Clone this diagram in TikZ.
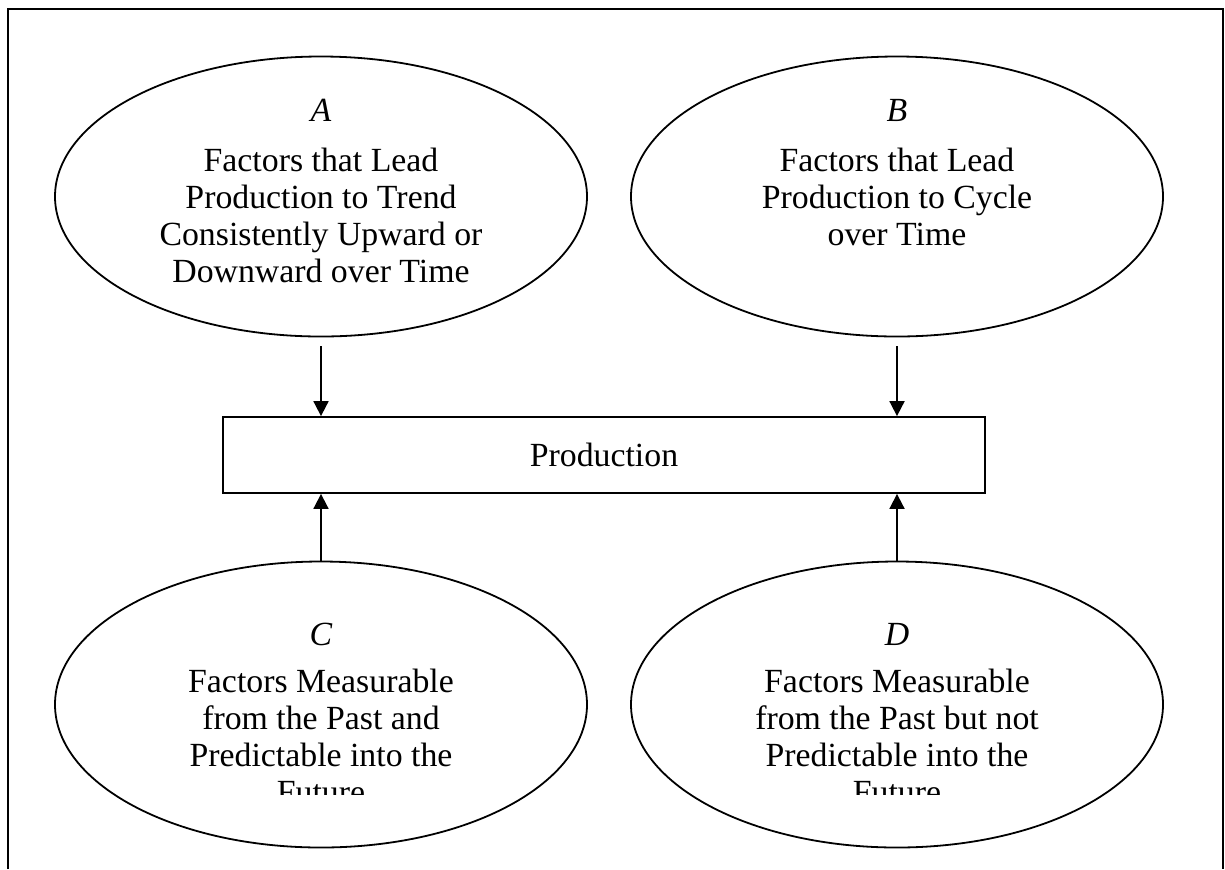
\documentclass[tikz,border=0pt]{standalone}
\usepackage{fontspec}
\setmainfont{Liberation Serif}
\usetikzlibrary{shapes.geometric,arrows.meta,positioning}

\begin{document}
\begin{tikzpicture}[x=0.5pt,y=-0.5pt,line width=0.9pt,
    >={Triangle[width=7.5pt,length=7.5pt]},
    factor/.style={draw,ellipse,inner sep=0pt,minimum width=266pt,minimum height=140pt},
    factortext/.style={anchor=north,align=center,inner sep=0pt,font=\fontsize{16.9}{18.5}\selectfont},
    prodbox/.style={draw,rectangle,inner sep=0pt,minimum width=381pt,minimum height=38pt,font=\fontsize{16.9}{18.5}\selectfont}]
  \useasboundingbox (0,0) rectangle (1225,869);
  % frame, open at the bottom
  \draw (8,869) -- (8,9) -- (1223,9) -- (1223,869);
  % the four groups of factors
  \node[factor] (ellA) at (321,196.5) {};
  \node[factor] (ellB) at (897,196.5) {};
  \node[factor,minimum height=143pt] (ellC) at (321,704.5) {};
  \node[factor,minimum height=143pt] (ellD) at (897,704.5) {};
  \node[prodbox] (prod) at (604,455) {Production};
  \node[factortext] (txtA) at (ellA.center |- 0,98.5) {\textit{A}\\[6.5pt]Factors that Lead\\Production to Trend\\Consistently Upward or\\Downward over Time};
  \node[factortext] (txtB) at (ellB.center |- 0,98.5) {\textit{B}\\[6.5pt]Factors that Lead\\Production to Cycle\\over Time};
  \begin{scope}
    \clip (0,0) rectangle (1225,794);
    \node[factortext] (txtC) at (ellC.center |- 0,622.5) {\textit{C}\\[5pt]Factors Measurable\\from the Past and\\Predictable into the\\Future};
    \node[factortext] (txtD) at (ellD.center |- 0,622.5) {\textit{D}\\[5pt]Factors Measurable\\from the Past but not\\Predictable into the\\Future};
  \end{scope}
  % arrows into production
  \draw[->] ([yshift=-4.5pt]ellA.south) -- (ellA.south |- prod.north);
  \draw[->] ([yshift=-4.5pt]ellB.south) -- (ellB.south |- prod.north);
  \draw[->] (ellC.north) -- (ellC.north |- prod.south);
  \draw[->] (ellD.north) -- (ellD.north |- prod.south);
\end{tikzpicture}
\end{document}
